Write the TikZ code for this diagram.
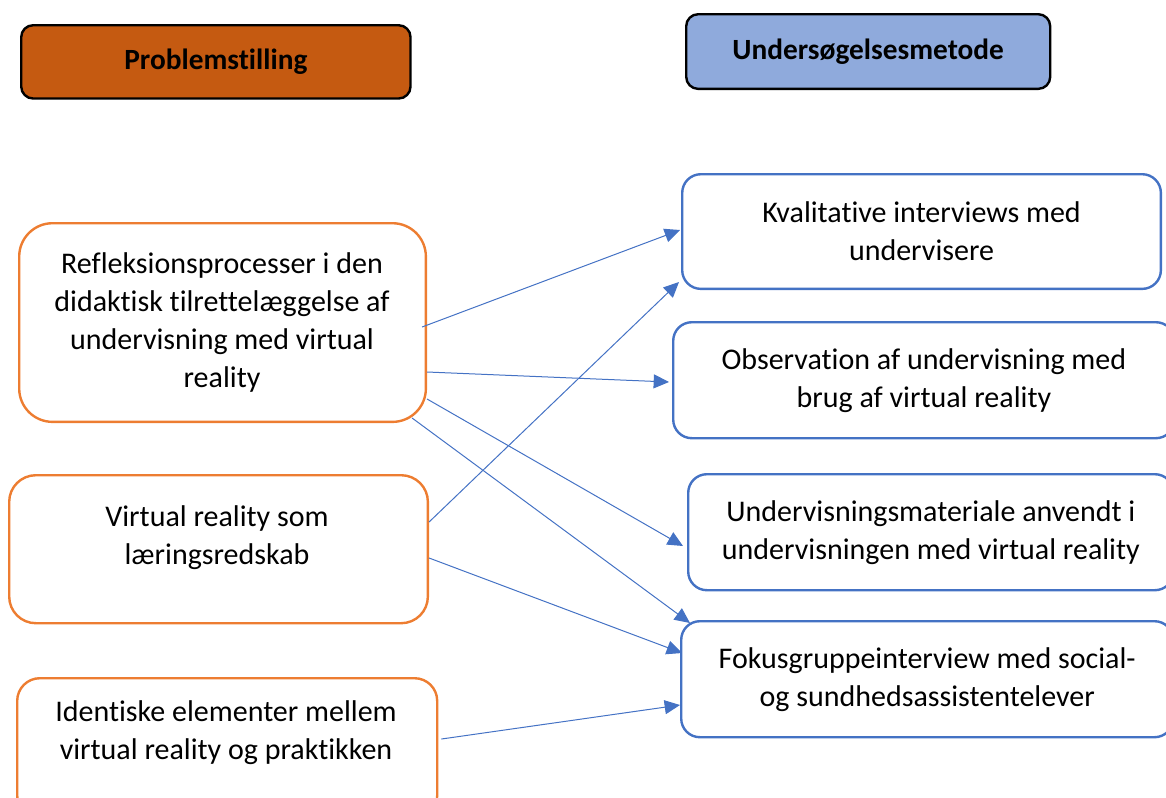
\documentclass[tikz,border=0pt]{standalone}
\usepackage{fontspec}
\setmainfont{Carlito}[Ligatures=NoCommon]
\usetikzlibrary{arrows.meta}
\definecolor{rust}{HTML}{C55A11}
\definecolor{paleblue}{HTML}{8FAADC}
\definecolor{accorange}{HTML}{ED7D31}
\definecolor{accblue}{HTML}{4472C4}
\begin{document}
\begin{tikzpicture}[x=0.75pt,y=-0.75pt,
  header/.style={draw=black,line width=1.8pt,rounded corners=9pt,anchor=north west,
    inner sep=0pt,font=\fontsize{22}{26}\selectfont\bfseries},
  bodytext/.style={inner sep=0pt,align=center,font=\fontsize{22.5}{28.5}\selectfont},
  issue/.style={draw=accorange,line width=1.8pt,anchor=north west,inner sep=0pt},
  method/.style={draw=accblue,line width=1.8pt,rounded corners=14pt,anchor=north west,
    inner sep=0pt,bodytext},
  link/.style={draw=accblue,line width=0.75pt,-{Triangle[length=11.5pt,width=10.5pt]}}]
\useasboundingbox (0,0) rectangle (1166,797);
\clip (0,0) rectangle (1166,797);

% column headers
\node[header,fill=rust,minimum width=292pt,minimum height=55pt] (hprob) at (20,24) {Problemstilling};
\node[header,fill=paleblue,minimum width=273pt,minimum height=56pt] (hmeth) at (685,13) {Undersøgelsesmetode};

% research questions: frames, then their texts
\node[issue,rounded corners=25pt,minimum width=305pt,minimum height=149pt] (q1) at (18,222) {};
\node[issue,rounded corners=20pt,minimum width=314pt,minimum height=111pt] (q2) at (8,474) {};
\node[issue,rounded corners=17pt,minimum width=315pt,minimum height=105pt] (q3) at (16,677) {};
\node[bodytext] (q1text) at (222,322)
  {Refleksionsprocesser i den\\didaktisk tilrettelæggelse af\\undervisning med virtual\\reality};
\node[bodytext] (q2text) at (217,538) {Virtual reality som\\læringsredskab};
\node[bodytext] (q3text) at (226,733) {Identiske elementer mellem\\virtual reality og praktikken};

% methods
\node[method,minimum width=359pt,minimum height=86pt] (m1) at (681,173)
  {Kvalitative interviews med\\undervisere};
\node[method,minimum width=376pt,minimum height=87pt] (m2) at (672,321)
  {Observation af undervisning med\\brug af virtual reality};
\node[method,minimum width=364pt,minimum height=87pt] (m3) at (687,473)
  {Undervisningsmateriale anvendt i\\undervisningen med virtual reality};
\node[method,minimum width=369pt,minimum height=87pt] (m4) at (680,620)
  {Fokusgruppeinterview med social-\\og sundhedsassistentelever};

% connectors
\path[link] ([shift={(-5,105)}]q1.north east) -- ([shift={(-1,57)}]m1.north west);
\path[link] ([shift={(0,150)}]q1.north east) -- ([shift={(-3,61)}]m2.north west);
\path[link] ([shift={(0,177)}]q1.north east) -- ([shift={(-4,73)}]m3.north west);
\path[link] ([shift={(-15,196)}]q1.north east) -- ([shift={(10,3)}]m4.north west);
\path[link] ([shift={(0,48)}]q2.north east) -- ([shift={(-2,109)}]m1.north west);
\path[link] ([shift={(0,84)}]q2.north east) -- ([shift={(2,33)}]m4.north west);
\path[link] ([shift={(3,62)}]q3.north east) -- ([shift={(0,85)}]m4.north west);
\end{tikzpicture}
\end{document}
